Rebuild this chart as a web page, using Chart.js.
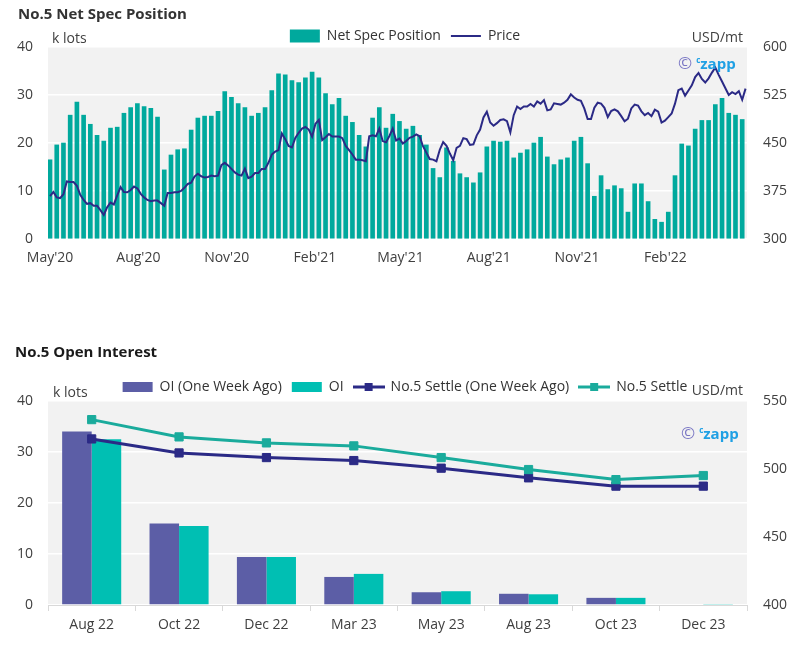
<!DOCTYPE html>
<html>
<head>
<meta charset="utf-8">
<script src="https://cdn.jsdelivr.net/npm/chart.js@4.4.1/dist/chart.umd.min.js"></script>
<style>
  html,body{margin:0;padding:0;background:#fff;}
  body{width:810px;height:646px;overflow:hidden;position:relative;font-family:'Open Sans',sans-serif;}
  canvas{position:absolute;left:0;z-index:1;}
  .title{position:absolute;font-weight:700;font-size:15px;line-height:20px;white-space:nowrap;z-index:2;}
  .unit{position:absolute;font-size:14px;line-height:20px;color:#404040;white-space:nowrap;z-index:2;}
  .wm{position:absolute;font-weight:700;font-size:15px;line-height:20px;white-space:nowrap;z-index:2;}
  .wm .c1{color:#7a77c4;font-size:17px;font-weight:400;}
  .wm .c2{color:#1fa0e4;font-size:8px;vertical-align:6px;margin-left:4px;}
  .wm .c3{color:#1fa0e4;}
</style>
</head>
<body>
<canvas id="top" width="810" height="275" style="top:0;"></canvas>
<canvas id="bot" width="810" height="306" style="top:340px;"></canvas>

<div class="title" style="left:18px;top:3px;color:#333;">No.5 Net Spec Position</div>
<div class="unit" style="left:52px;top:28px;">k lots</div>
<div class="unit" style="right:67px;top:27px;">USD/mt</div>
<div class="wm" style="left:678px;top:50px;"><span class="c1">©</span><span class="c2">c</span><span class="c3">zapp</span></div>

<div class="title" style="left:15px;top:341px;color:#1a1a1a;">No.5 Open Interest</div>
<div class="unit" style="left:53px;top:382px;">k lots</div>
<div class="unit" style="right:67px;top:380px;">USD/mt</div>
<div class="wm" style="left:681px;top:420px;"><span class="c1">©</span><span class="c2">c</span><span class="c3">zapp</span></div>

<script>
// ---------------- DATA: top chart ----------------
// Weekly net speculative position, k lots (one value per week from 1 May 2020)
const netSpec = [
  16.5, 19.6, 20.0, 25.8, 28.5, 25.8, 23.9, 21.6, 20.4, 23.1,
  23.3, 26.2, 27.4, 28.2, 27.6, 27.2, 25.4, 14.4, 17.5, 18.6,
  18.8, 22.7, 25.2, 25.6, 25.6, 26.6, 30.7, 29.5, 28.2, 27.4,
  25.6, 26.2, 27.4, 30.9, 34.4, 34.2, 33.0, 32.6, 33.6, 34.8,
  33.6, 30.3, 28.0, 29.3, 25.6, 24.3, 21.6, 19.2, 25.2, 27.4,
  23.1, 26.0, 24.5, 22.9, 23.5, 21.6, 19.6, 14.7, 12.8, 19.0,
  16.2, 13.6, 12.8, 11.7, 13.8, 19.2, 20.4, 20.2, 20.4, 16.9,
  17.9, 18.6, 20.0, 21.2, 17.1, 15.5, 16.5, 16.9, 20.4, 21.2,
  15.7, 8.9, 13.2, 10.3, 11.1, 10.5, 5.6, 11.5, 11.5, 7.8,
  4.1, 3.5, 5.6, 13.2, 19.8, 19.4, 22.9, 24.7, 24.7, 28.0,
  29.3, 26.2, 25.8, 24.9
];
// Price, USD/mt (one value every 3.5 days from 1 May 2020)
const price = [
  367, 373.5, 365, 364, 370, 390, 389, 389, 383, 369,
  361, 355, 356, 352, 352, 345, 337.5, 349.5, 357, 354,
  368, 381, 373.5, 373, 376.5, 382, 379, 370.5, 365, 361,
  359, 360, 360, 356, 352, 372, 372, 373, 373, 375,
  380, 386, 388, 397.5, 402, 398, 396, 397, 399, 398,
  399, 415.5, 419, 415, 409.5, 404, 400.5, 399, 410, 395,
  397.5, 403, 403, 409.5, 409.5, 419, 432, 436.5, 439, 465,
  456, 445.5, 443, 458, 466, 472.5, 475, 471, 460, 480,
  486, 454.5, 459, 464, 460, 460, 460, 457.5, 445.5, 439,
  432, 424, 424, 423, 421.5, 460.5, 462, 460.5, 472.5, 453,
  451, 461, 472.5, 454, 457, 449, 453, 458, 460, 463.5,
  460.5, 445, 435, 425, 424, 421.5, 439.5, 451.5, 445.5, 433.5,
  423, 442.5, 445.5, 457.5, 456, 447, 448, 462, 471, 490,
  499, 482, 477, 481, 486, 487, 484, 466.5, 493.5, 507,
  503, 507, 507, 511, 507, 515, 511.5, 517, 501, 502.5,
  512, 511, 510, 513, 517.5, 526, 521, 517.5, 516, 504,
  487.5, 487.5, 505, 513, 511.5, 505, 490.5, 500, 502.5, 499.5,
  492, 484, 488, 504, 510, 508.5, 499.5, 493.5, 497, 492,
  502, 499, 482, 485, 490.5, 496, 511.5, 532.5, 535, 524,
  532, 540, 553, 559.5, 550, 544.5, 551, 560, 568, 556.5,
  546, 535.5, 525, 529.5, 526.5, 531, 517.5, 535
];
const startDate = '2020-05-01';
const netSpecStepDays = 7;
const priceStepDays = 3.5;
const monthTickLabels = ["May'20", "Aug'20", "Nov'20", "Feb'21", "May'21", "Aug'21", "Nov'21", "Feb'22"];
const monthTickDates  = ['2020-05-01', '2020-08-01', '2020-11-01', '2021-02-01', '2021-05-01', '2021-08-01', '2021-11-01', '2022-02-01'];
const leftTicksTop = [0, 10, 20, 30, 40];
const rightTicksTop = [300, 375, 450, 525, 600];

// ---------------- DATA: bottom chart ----------------
const contracts = ['Aug 22', 'Oct 22', 'Dec 22', 'Mar 23', 'May 23', 'Aug 23', 'Oct 23', 'Dec 23'];
const oiWeekAgo = [34.0, 16.0, 9.4, 5.5, 2.5, 2.2, 1.4, 0];
const oiNow     = [32.5, 15.5, 9.4, 6.1, 2.7, 2.1, 1.4, 0.2];
const settleWeekAgo = [522.1, 511.8, 508.4, 506.2, 500.6, 493.5, 487.4, 487.4];
const settleNow     = [536.3, 523.6, 519.2, 517.0, 508.4, 499.6, 492.2, 495.2];

// ---------------- styling ----------------
const TEAL = '#00a99d';
const NAVY = '#2b2a86';
const PURPLE = '#5c5ea6';
const TEAL2 = '#00bfb3';
const TEAL_LINE = '#1aab9c';
const TICK = '#404040';
const LEG = '#333333';

Chart.defaults.font.family = "'Open Sans', sans-serif";
Chart.defaults.font.size = 14;
Chart.defaults.color = TICK;

const dayMs = 86400000;
const t0 = Date.parse(startDate + 'T00:00:00Z');
const tickDays = monthTickDates.map(d => (Date.parse(d + 'T00:00:00Z') - t0) / dayMs);

const bgPlugin = {
  id: 'plotBg',
  beforeDraw(chart) {
    const { ctx, chartArea: a } = chart;
    ctx.save();
    ctx.fillStyle = '#f2f2f2';
    ctx.fillRect(a.left, a.top, a.right - a.left, a.bottom - a.top);
    ctx.restore();
  }
};
function legendHeight(h) {
  return {
    id: 'legendHeight',
    beforeLayout(chart) {
      const lg = chart.legend;
      if (lg && !lg._hPatched) {
        const f = lg.fit;
        lg.fit = function () { f.call(this); this.height = h; };
        lg._hPatched = true;
      }
    }
  };
}

// ---------------- top chart ----------------
new Chart(document.getElementById('top'), {
  data: {
    datasets: [
      {
        type: 'bar', label: 'Net Spec Position', yAxisID: 'y', order: 2,
        data: netSpec.map((v, i) => ({ x: i * netSpecStepDays, y: v })),
        backgroundColor: TEAL, barThickness: 4, borderWidth: 0
      },
      {
        type: 'line', label: 'Price', yAxisID: 'y2', order: 1,
        data: price.map((v, i) => ({ x: i * priceStepDays, y: v })),
        borderColor: NAVY, borderWidth: 2, pointRadius: 0, tension: 0, fill: false
      }
    ]
  },
  options: {
    responsive: false, animation: false, devicePixelRatio: 1,
    layout: { padding: { top: 19, left: 0, right: 0, bottom: 0 } },
    plugins: {
      tooltip: { enabled: false },
      legend: {
        position: 'top', align: 'center',
        labels: {
          usePointStyle: true, pointStyleWidth: 30, boxHeight: 13, padding: 10,
          color: LEG, font: { size: 14 },
          generateLabels: (chart) => [
            { text: chart.data.datasets[0].label, fillStyle: TEAL, strokeStyle: TEAL, lineWidth: 0, pointStyle: 'rect', datasetIndex: 0, hidden: false, fontColor: LEG },
            { text: chart.data.datasets[1].label, fillStyle: NAVY, strokeStyle: NAVY, lineWidth: 2, pointStyle: 'line', datasetIndex: 1, hidden: false, fontColor: LEG }
          ]
        }
      }
    },
    scales: {
      x: {
        type: 'linear', min: -2.1, max: 726, offset: false, bounds: 'ticks',
        afterBuildTicks: (s) => { s.ticks = tickDays.map(v => ({ value: v })); },
        afterFit: (s) => { s.height = 36; },
        ticks: { callback: (v, i) => monthTickLabels[i], autoSkip: false, maxRotation: 0, padding: 11, color: TICK },
        grid: { display: false, drawTicks: false, offset: false },
        border: { display: false }
      },
      y: {
        position: 'left', min: 0, max: 40,
        afterBuildTicks: (s) => { s.ticks = leftTicksTop.map(v => ({ value: v })); },
        afterFit: (s) => { s.width = 48; },
        ticks: { padding: 15, color: TICK },
        grid: { color: '#ffffff', lineWidth: 1.5, drawTicks: false },
        border: { display: false }
      },
      y2: {
        position: 'right', min: 300, max: 600,
        afterBuildTicks: (s) => { s.ticks = rightTicksTop.map(v => ({ value: v })); },
        afterFit: (s) => { s.width = 63; },
        ticks: { padding: 16, color: TICK },
        grid: { display: false, drawTicks: false },
        border: { display: false }
      }
    }
  },
  plugins: [bgPlugin, legendHeight(28)]
});

// ---------------- bottom chart ----------------
function lineMarkerIcon(color) {
  const c = document.createElement('canvas');
  c.width = 32; c.height = 10;
  const g = c.getContext('2d');
  g.strokeStyle = color; g.lineWidth = 3;
  g.beginPath(); g.moveTo(0, 5); g.lineTo(32, 5); g.stroke();
  g.fillStyle = color; g.fillRect(12, 1, 8, 8);
  return c;
}
const iconWeekAgo = lineMarkerIcon(NAVY);
const iconNow = lineMarkerIcon(TEAL_LINE);

new Chart(document.getElementById('bot'), {
  data: {
    labels: contracts,
    datasets: [
      { type: 'bar', label: 'OI (One Week Ago)', data: oiWeekAgo, yAxisID: 'y', order: 3, backgroundColor: PURPLE, borderWidth: 0, categoryPercentage: 0.676, barPercentage: 1.0 },
      { type: 'bar', label: 'OI', data: oiNow, yAxisID: 'y', order: 4, backgroundColor: TEAL2, borderWidth: 0, categoryPercentage: 0.676, barPercentage: 1.0 },
      { type: 'line', label: 'No.5 Settle (One Week Ago)', data: settleWeekAgo, yAxisID: 'y2', order: 2, borderColor: NAVY, backgroundColor: NAVY, borderWidth: 3, pointStyle: 'rect', pointRadius: 5.8, pointBorderWidth: 1, pointBackgroundColor: NAVY, pointBorderColor: NAVY, tension: 0 },
      { type: 'line', label: 'No.5 Settle', data: settleNow, yAxisID: 'y2', order: 1, borderColor: TEAL_LINE, backgroundColor: TEAL_LINE, borderWidth: 3, pointStyle: 'rect', pointRadius: 5.8, pointBorderWidth: 1, pointBackgroundColor: TEAL_LINE, pointBorderColor: TEAL_LINE, tension: 0 }
    ]
  },
  options: {
    responsive: false, animation: false, devicePixelRatio: 1,
    layout: { padding: { top: 30, left: 0, right: 0, bottom: 0 } },
    plugins: {
      tooltip: { enabled: false },
      legend: {
        position: 'top', align: 'center',
        labels: {
          usePointStyle: true, pointStyleWidth: 30, boxHeight: 10, padding: 10,
          color: LEG, font: { size: 14 },
          generateLabels: (chart) => {
            const ds = chart.data.datasets;
            return [
              { text: ds[0].label, fillStyle: PURPLE, strokeStyle: PURPLE, lineWidth: 0, pointStyle: 'rect', datasetIndex: 0, hidden: false, fontColor: LEG },
              { text: ds[1].label, fillStyle: TEAL2, strokeStyle: TEAL2, lineWidth: 0, pointStyle: 'rect', datasetIndex: 1, hidden: false, fontColor: LEG },
              { text: ds[2].label, fillStyle: NAVY, strokeStyle: NAVY, lineWidth: 0, pointStyle: iconWeekAgo, datasetIndex: 2, hidden: false, fontColor: LEG },
              { text: ds[3].label, fillStyle: TEAL_LINE, strokeStyle: TEAL_LINE, lineWidth: 0, pointStyle: iconNow, datasetIndex: 3, hidden: false, fontColor: LEG }
            ];
          }
        }
      }
    },
    scales: {
      x: {
        type: 'category', offset: true,
        afterFit: (s) => { s.height = 41; },
        ticks: { padding: 6, color: TICK, maxRotation: 0, autoSkip: false },
        grid: { display: true, drawOnChartArea: false, drawTicks: true, tickLength: 6, color: '#d9d9d9', offset: true },
        border: { display: true, color: '#d9d9d9' }
      },
      y: {
        position: 'left', min: 0, max: 40,
        ticks: { stepSize: 10, padding: 15, color: TICK },
        afterFit: (s) => { s.width = 48; },
        grid: { color: '#ffffff', lineWidth: 1.5, drawTicks: false },
        border: { display: false }
      },
      y2: {
        position: 'right', min: 400, max: 550,
        ticks: { stepSize: 50, padding: 16, color: TICK },
        afterFit: (s) => { s.width = 63; },
        grid: { display: false, drawTicks: false },
        border: { display: false }
      }
    }
  },
  plugins: [bgPlugin, legendHeight(31)]
});
</script>
</body>
</html>
